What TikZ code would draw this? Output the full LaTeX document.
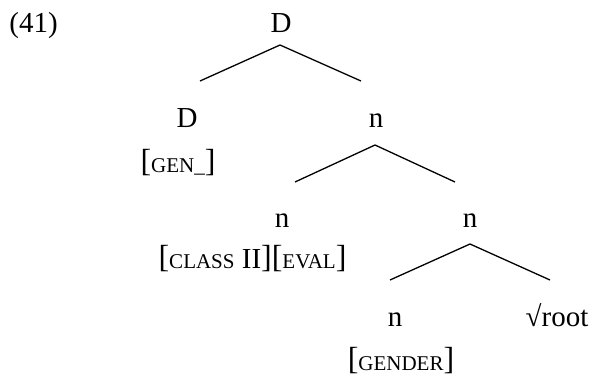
\documentclass[tikz,border=0pt]{standalone}
\usepackage{fontspec}
\setmainfont{Liberation Serif}
\newcommand{\smc}[1]{{\fontsize{21}{21}\selectfont #1}}
\newcommand{\lbr}{{\fontsize{32}{32}\selectfont\raisebox{1pt}{[}}}
\newcommand{\rbr}{{\fontsize{32}{32}\selectfont\raisebox{1pt}{]}}}
\begin{document}
\begin{tikzpicture}[x=1pt,y=-1pt,
  every node/.style={inner sep=0pt, anchor=base, font=\fontsize{29}{29}\selectfont},
  branch/.style={line width=1.3pt}]
\useasboundingbox (0,0) rectangle (596,381);
\node (ex) at (33.5,32) {(41)};
\node (D0) at (281,32) {D};
\node (D1) at (187,127) {D};
\node (gen) at (178,172) {\lbr\smc{GEN\_}\rbr};
\node (n1) at (376,127) {n};
\node (n2) at (282,227) {n};
\node (cls) at (252.5,268) {\lbr\smc{CLASS} II\rbr\lbr\smc{EVAL}\rbr};
\node (n3) at (470,227) {n};
\node (n4) at (395,326) {n};
\node (root) at (557,326) {√root};
\node (gnd) at (401,370) {\lbr\smc{GENDER}\rbr};
\coordinate (a0) at (280,45);
\coordinate (a1) at (200,81);
\coordinate (a2) at (361,81);
\coordinate (b0) at (375,145);
\coordinate (b1) at (295,182);
\coordinate (b2) at (455,182);
\coordinate (c0) at (470,244);
\coordinate (c1) at (390,280);
\coordinate (c2) at (550,280);
\draw[branch] (a1) -- (a0) -- (a2);
\draw[branch] (b1) -- (b0) -- (b2);
\draw[branch] (c1) -- (c0) -- (c2);
\end{tikzpicture}
\end{document}
